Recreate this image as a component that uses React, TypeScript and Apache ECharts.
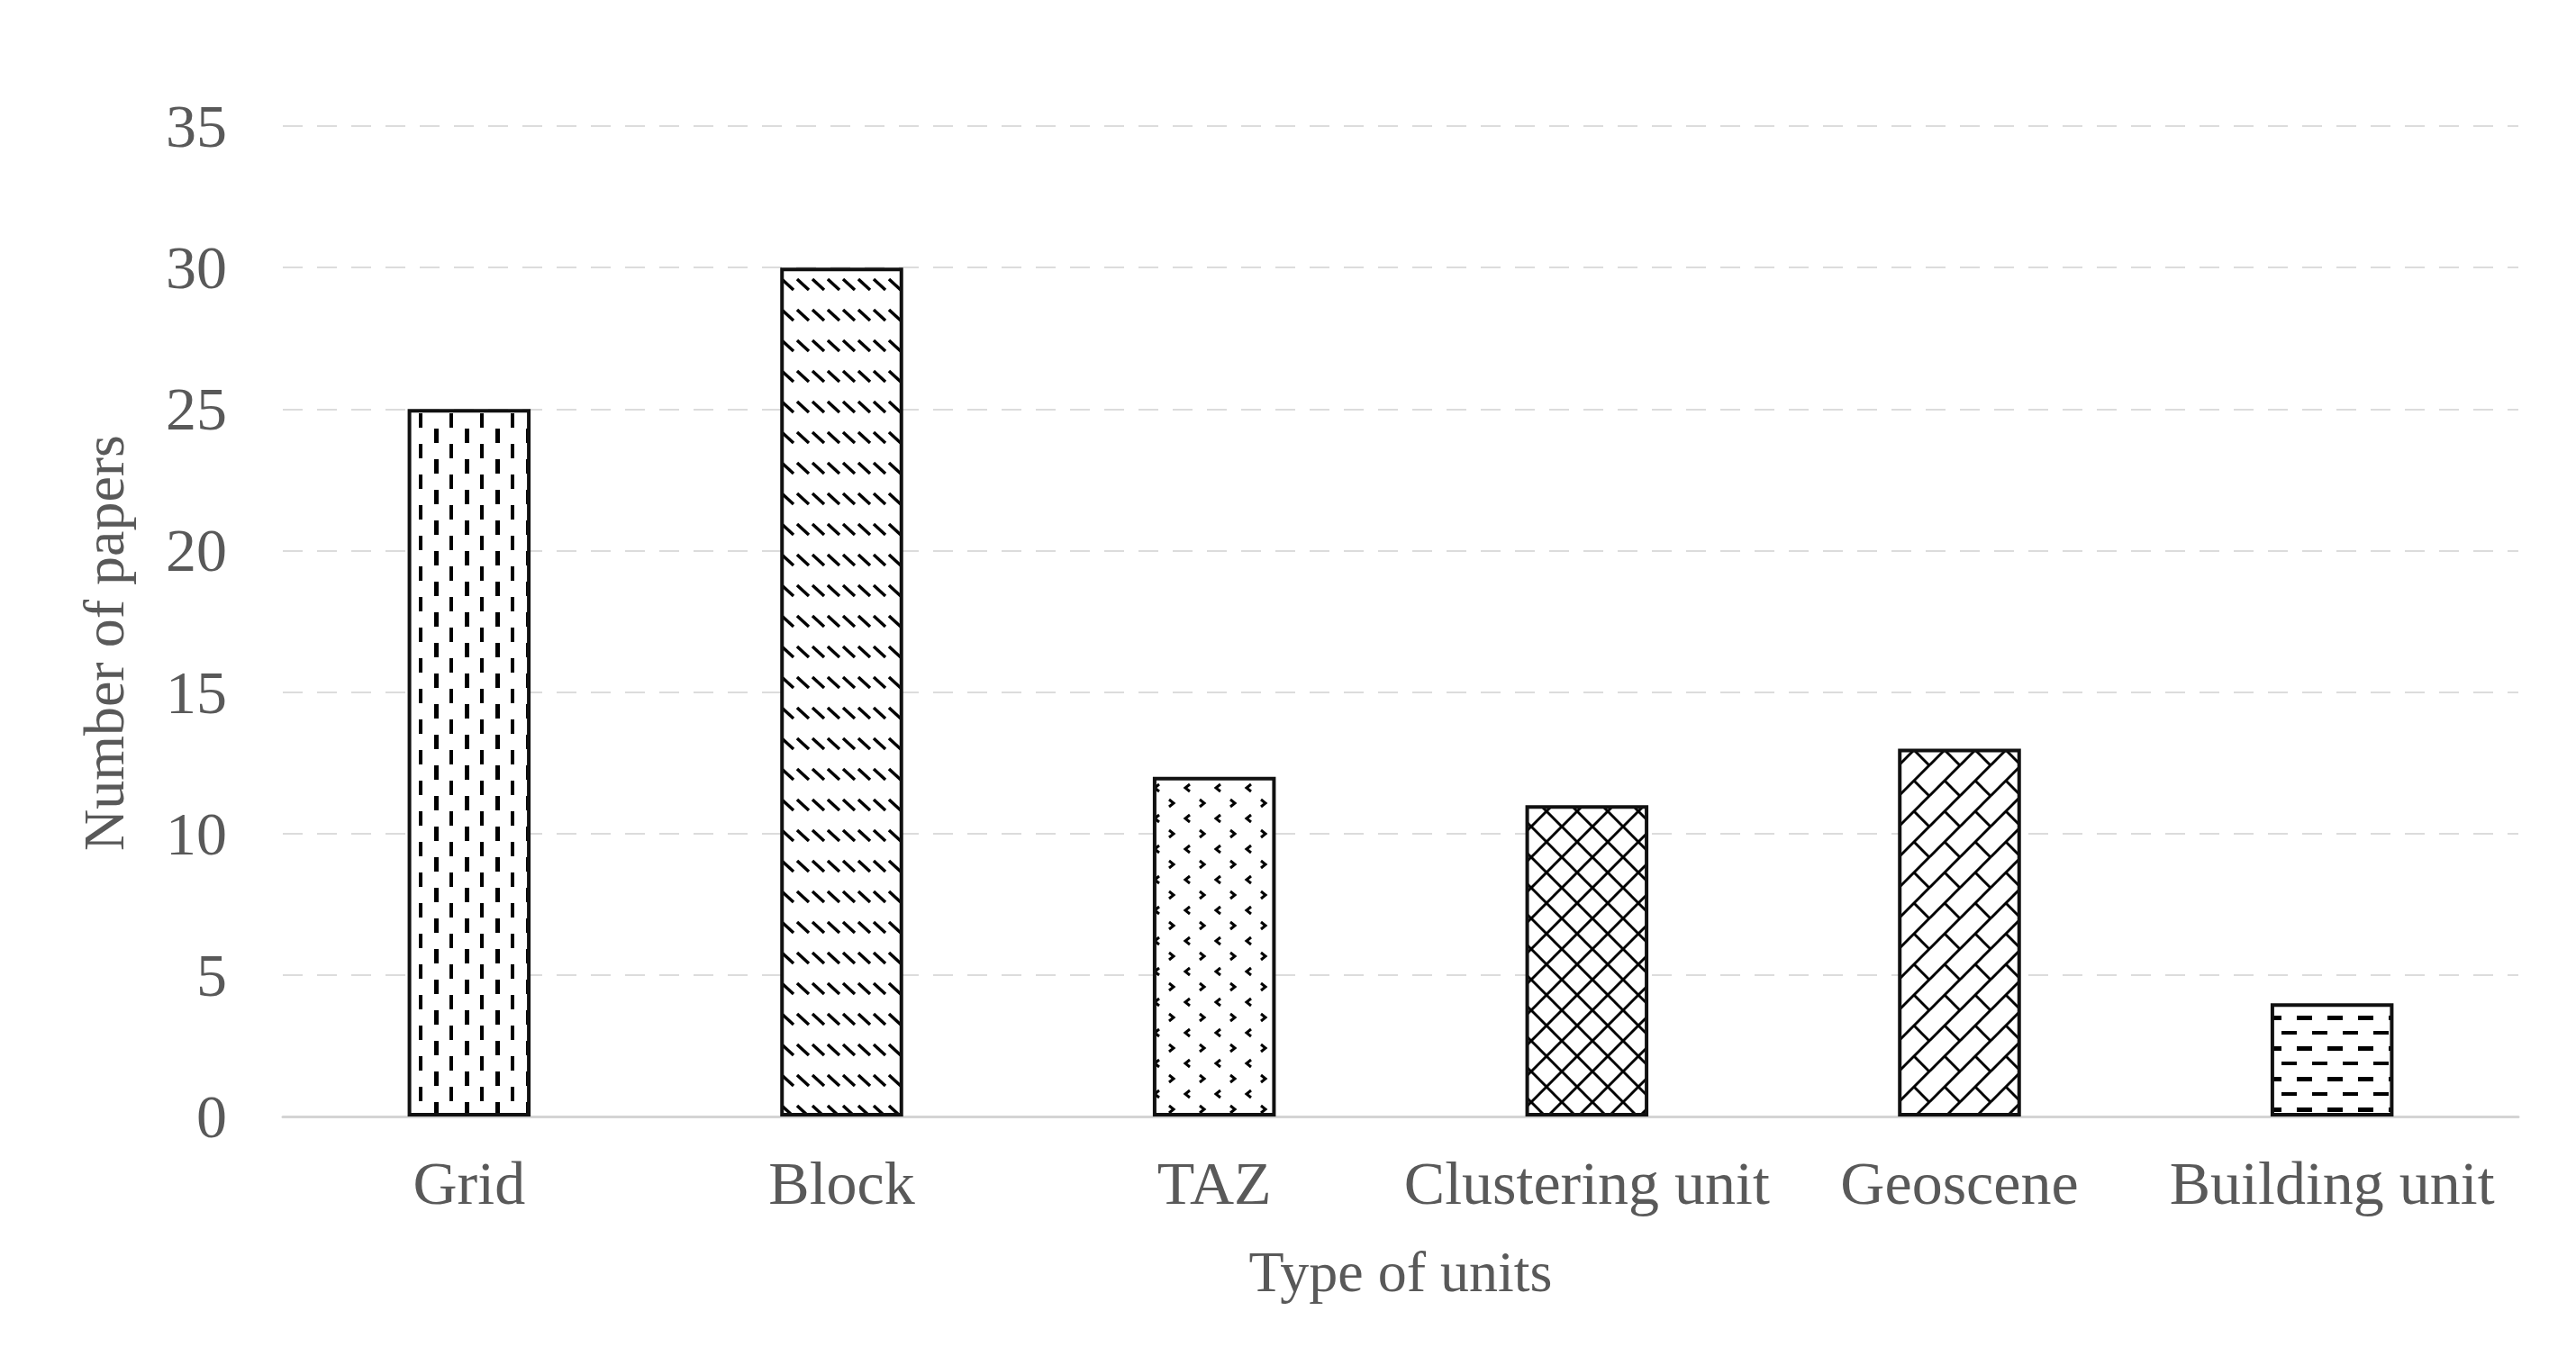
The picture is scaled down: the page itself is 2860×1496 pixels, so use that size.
import React, { useEffect, useRef } from "react";
import * as echarts from "echarts";

const categories = ["Grid", "Block", "TAZ", "Clustering unit", "Geoscene", "Building unit"];
const values = [25, 30, 12, 11, 13, 4];
const patternKinds = ["vdash", "wave", "confetti", "trellis", "brick", "hdash"];
const yMin = 0;
const yMax = 35;
const yInterval = 5;
const xTitle = "Type of units";
const yTitle = "Number of papers";

const FONT = "'Liberation Serif', 'Times New Roman', serif";
const TEXT = "#595959";

function makeTile(kind: string) {
  const s = 34;
  const c = document.createElement("canvas");
  c.width = s;
  c.height = s;
  const g = c.getContext("2d")!;
  g.fillStyle = "#ffffff";
  g.fillRect(0, 0, s, s);
  g.fillStyle = "#000000";
  g.strokeStyle = "#000000";
  g.lineCap = "butt";
  const line = (pts: number[][], w: number) => {
    g.lineWidth = w;
    g.beginPath();
    g.moveTo(pts[0][0], pts[0][1]);
    for (let i = 1; i < pts.length; i++) g.lineTo(pts[i][0], pts[i][1]);
    g.stroke();
  };
  switch (kind) {
    case "vdash":
      g.fillRect(6, 0, 5, 16);
      g.fillRect(23, 17, 4, 16);
      break;
    case "hdash":
      g.fillRect(0, 6, 17, 5);
      g.fillRect(17, 23, 17, 4);
      break;
    case "wave":
      line([[1, 4], [14, 16]], 3.5);
      line([[18, 4], [31, 16]], 3.5);
      break;
    case "confetti":
      line([[6, 4], [11, 8], [6, 12]], 3);
      line([[29, 21], [24, 25], [29, 29]], 3);
      break;
    case "trellis":
      line([[-3, -3], [37, 37]], 3);
      line([[37, -3], [-3, 37]], 3);
      break;
    case "brick":
      line([[-3, 37], [37, -3]], 3);
      line([[17, 17], [37, 37]], 3);
      line([[-3, -3], [1, 1]], 3);
      break;
  }
  return { image: c.toDataURL(), repeat: "repeat", imageWidth: s, imageHeight: s };
}

export default function App() {
  const ref = useRef<HTMLDivElement>(null);
  useEffect(() => {
    if (!ref.current) return;
    const chart = echarts.init(ref.current, null, { renderer: "svg" });
    const patterns = patternKinds.map(makeTile);
    chart.setOption({
      animation: false,
      backgroundColor: "#ffffff",
      grid: { left: 314, right: 64, top: 140, bottom: 256 },
      xAxis: {
        type: "category",
        data: categories,
        axisTick: { show: false },
        axisLine: { lineStyle: { color: "#d4d4d4", width: 3 } },
        axisLabel: { fontSize: 68, color: TEXT, fontFamily: FONT, margin: 40, interval: 0 },
        name: xTitle,
        nameLocation: "middle",
        nameGap: 140,
        nameTextStyle: { fontSize: 64, color: TEXT, fontFamily: FONT },
      },
      yAxis: {
        type: "value",
        min: yMin,
        max: yMax,
        interval: yInterval,
        axisLine: { show: false },
        axisTick: { show: false },
        splitLine: { lineStyle: { type: [22, 16], color: "#dcdcdc", width: 2 } },
        axisLabel: { fontSize: 68, color: TEXT, fontFamily: FONT, margin: 62 },
        name: yTitle,
        nameLocation: "middle",
        nameRotate: 90,
        nameGap: 167,
        nameTextStyle: { fontSize: 64, color: TEXT, fontFamily: FONT, padding: [0, 48, 0, 0] },
      },
      series: [
        {
          type: "bar",
          barWidth: "33%",
          emphasis: { disabled: true },
          data: values.map((v, i) => ({
            value: v,
            itemStyle: { color: patterns[i], borderColor: "#111111", borderWidth: 4 },
          })),
        },
      ],
    });
    return () => chart.dispose();
  }, []);
  return (
    <div
      ref={ref}
      style={{ position: "fixed", left: 0, top: 0, width: 2860, height: 1496, background: "#fff" }}
    />
  );
}
